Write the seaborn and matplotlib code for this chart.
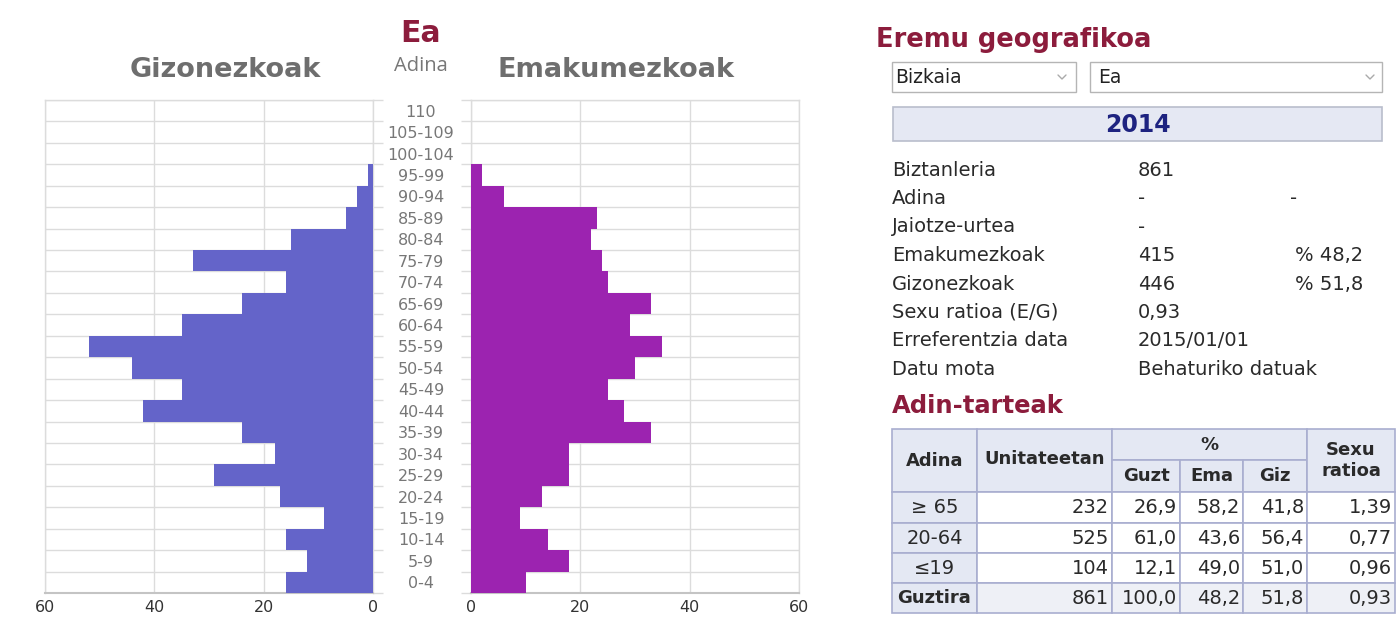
import numpy as np
import pandas as pd
import matplotlib
matplotlib.use("Agg")
import matplotlib.pyplot as plt
from matplotlib.patches import Rectangle
from matplotlib.ticker import FixedLocator
import seaborn as sns

# ---------------- data ----------------
ages = ["110", "105-109", "100-104", "95-99", "90-94", "85-89", "80-84", "75-79",
        "70-74", "65-69", "60-64", "55-59", "50-54", "45-49", "40-44", "35-39",
        "30-34", "25-29", "20-24", "15-19", "10-14", "5-9", "0-4"]
male = [0, 0, 0, 1, 3, 5, 15, 33, 16, 24, 35, 52, 44, 35, 42, 24, 18, 29, 17, 9, 16, 12, 16]
female = [0, 0, 0, 2, 6, 23, 22, 24, 25, 33, 29, 35, 30, 25, 28, 33, 18, 18, 13, 9, 14, 18, 10]
x_ticks = [0, 20, 40, 60]

place_title = "Ea"
male_title = "Gizonezkoak"
female_title = "Emakumezkoak"
age_title = "Adina"

region_title = "Eremu geografikoa"
province = "Bizkaia"
municipality = "Ea"
year = "2014"
info_labels = ["Biztanleria", "Adina", "Jaiotze-urtea", "Emakumezkoak", "Gizonezkoak",
               "Sexu ratioa (E/G)", "Erreferentzia data", "Datu mota"]
info_values = ["861", "-", "-", "415", "446", "0,93", "2015/01/01", "Behaturiko datuak"]
info_extra = ["", "-", "", "% 48,2", "% 51,8", "", "", ""]

table_title = "Adin-tarteak"
tbl_groups = ["\u2265 65", "20-64", "\u226419", "Guztira"]
tbl_units = ["232", "525", "104", "861"]
tbl_guzt = ["26,9", "61,0", "12,1", "100,0"]
tbl_ema = ["58,2", "43,6", "49,0", "48,2"]
tbl_giz = ["41,8", "56,4", "51,0", "51,8"]
tbl_ratio = ["1,39", "0,77", "0,96", "0,93"]

# ---------------- style ----------------
sns.set_theme(style="white")
plt.rcParams['font.family'] = ['DejaVu Sans']

W, H = 1396, 622
fig = plt.figure(figsize=(W / 100, H / 100), dpi=100)
fig.patch.set_facecolor("white")

male_col = "#6464c9"
fem_col = "#9c23b0"
grid_col = "#dcdcdc"
dark_red = "#8c1c3c"
label_grey = "#777777"
txt = "#2a2a2a"

df = pd.DataFrame({"age": ages, "male": male, "female": female})

def px_axes(x0, y0, x1, y1):
    return fig.add_axes([x0 / W, 1 - y1 / H, (x1 - x0) / W, (y1 - y0) / H])

ax1 = px_axes(45, 100, 373, 593)
ax2 = px_axes(471, 100, 799, 593)

sns.barplot(data=df, x="male", y="age", order=ages, ax=ax1, color=male_col,
            width=1.0, linewidth=0, saturation=1, zorder=3)
sns.barplot(data=df, x="female", y="age", order=ages, ax=ax2, color=fem_col,
            width=1.0, linewidth=0, saturation=1, zorder=3)

n = len(ages)
for ax in (ax1, ax2):
    ax.set_facecolor("white")
    ax.set_xlabel("")
    ax.set_ylabel("")
    ax.set_ylim(n - 0.5, -0.5)
    ax.set_xticks(x_ticks)
    ax.set_xticklabels([str(v) for v in x_ticks])
    ax.yaxis.set_minor_locator(FixedLocator(np.arange(-0.5, n, 1.0)))
    ax.grid(axis="x", which="major", color=grid_col, linewidth=1.0, zorder=0)
    ax.grid(axis="y", which="minor", color=grid_col, linewidth=1.0, zorder=0)
    ax.grid(axis="y", which="major", visible=False)
    ax.tick_params(axis="x", which="both", length=0, pad=5, labelsize=11.5,
                   labelcolor="#333333")
    ax.tick_params(axis="y", which="minor", length=7, width=1, color=grid_col)
    for s in ax.spines.values():
        s.set_color(grid_col)
        s.set_linewidth(1.0)
    ax.spines["bottom"].set_color("#c4c4c4")
    ax.spines["bottom"].set_linewidth(1.5)
    ax.set_axisbelow(True)

ax1.set_xlim(60, 0)
ax2.set_xlim(0, 60)

ax1.yaxis.tick_right()
ax1.tick_params(axis="y", which="major", length=0, labelright=False, labelleft=False)
ax2.yaxis.tick_left()
ax2.tick_params(axis="y", which="major", length=0, pad=36, labelsize=11.5,
                labelcolor=label_grey)
for lab in ax2.get_yticklabels():
    lab.set_horizontalalignment("center")

# ---------------- overlay in pixel coordinates ----------------
ov = fig.add_axes([0, 0, 1, 1], zorder=-1)
ov.set_xlim(0, W)
ov.set_ylim(H, 0)
ov.axis("off")

ov.text(421, 33, place_title, ha="center", va="center", fontsize=21.5,
        fontweight="bold", color=dark_red)
ov.text(421, 66, age_title, ha="center", va="center", fontsize=14.5,
        color=label_grey, family="Open Sans")
ov.text(225, 70, male_title, ha="center", va="center", fontsize=19.5,
        fontweight="bold", color="#6e6e6e")
ov.text(616, 70, female_title, ha="center", va="center", fontsize=19.5,
        fontweight="bold", color="#6e6e6e")

# right panel
ov.text(876, 40, region_title, ha="left", va="center", fontsize=18.5,
        fontweight="bold", color=dark_red)

def chevron(x, y):
    ov.plot([x - 4, x, x + 4], [y - 2, y + 2, y - 2], color="#aaaaaa", lw=1)

ov.add_patch(Rectangle((892, 62), 184, 30, facecolor="white", edgecolor="#b5b5b5", lw=1))
ov.text(895, 77.5, province, ha="left", va="center", fontsize=13.5, color="#222222")
chevron(1062, 77)
ov.add_patch(Rectangle((1090, 62), 292, 30, facecolor="white", edgecolor="#b5b5b5", lw=1))
ov.text(1098, 77.5, municipality, ha="left", va="center", fontsize=13.5, color="#222222")
chevron(1370, 77)

ov.add_patch(Rectangle((893, 107), 489, 34, facecolor="#e5e8f3", edgecolor="#b9bdcc", lw=1.2))
ov.text(1138, 124.5, year, ha="center", va="center", fontsize=17, fontweight="bold",
        color="#1e2380")

isz = 14
row_y0, row_dy = 170, 28.5
for i, (lab, val, ext) in enumerate(zip(info_labels, info_values, info_extra)):
    y = row_y0 + i * row_dy
    ov.text(892, y, lab, ha="left", va="center", fontsize=isz, color=txt)
    ov.text(1138, y, val, ha="left", va="center", fontsize=isz, color=txt)
    if ext:
        if ext == "-":
            ov.text(1294, y, ext, ha="center", va="center", fontsize=isz, color=txt)
        else:
            ov.text(1363, y, ext, ha="right", va="center", fontsize=isz, color=txt)

ov.text(892, 406, table_title, ha="left", va="center", fontsize=17.5,
        fontweight="bold", color=dark_red)

# table
cols = [892, 977, 1112, 1180, 1243, 1307, 1395]
rows = [429, 492, 523, 553, 583, 613]
split = 460
hdr_bg = "#e4e8f3"
border = "#a9aed0"
hsz = 13
tsize = 14

def cell(x0, y0, x1, y1, fc):
    ov.add_patch(Rectangle((x0, y0), x1 - x0, y1 - y0, facecolor=fc, edgecolor=border, lw=1.2))

cell(cols[0], rows[0], cols[1], rows[1], hdr_bg)
cell(cols[1], rows[0], cols[2], rows[1], hdr_bg)
cell(cols[2], rows[0], cols[5], split, hdr_bg)
for c in range(2, 5):
    cell(cols[c], split, cols[c + 1], rows[1], hdr_bg)
cell(cols[5], rows[0], cols[6], rows[1], hdr_bg)
ov.text((cols[0] + cols[1]) / 2, (rows[0] + rows[1]) / 2, "Adina", ha="center",
        va="center", fontsize=hsz, fontweight="bold", color=txt)
ov.text((cols[1] + cols[2]) / 2, (rows[0] + rows[1]) / 2 - 2, "Unitateetan", ha="center",
        va="center", fontsize=hsz, fontweight="bold", color=txt)
ov.text((cols[2] + cols[5]) / 2, (rows[0] + split) / 2, "%", ha="center",
        va="center", fontsize=hsz, fontweight="bold", color=txt)
for c, h in zip(range(2, 5), ["Guzt", "Ema", "Giz"]):
    ov.text((cols[c] + cols[c + 1]) / 2, (split + rows[1]) / 2, h, ha="center",
            va="center", fontsize=hsz, fontweight="bold", color=txt)
ov.text((cols[5] + cols[6]) / 2, (rows[0] + rows[1]) / 2, "Sexu\nratioa", ha="center",
        va="center", fontsize=hsz, fontweight="bold", color=txt, linespacing=1.2)

for r in range(4):
    y0, y1 = rows[r + 1], rows[r + 2]
    last = r == 3
    body_bg = "#eef0f6" if last else "white"
    cell(cols[0], y0, cols[1], y1, hdr_bg)
    for c in range(1, 6):
        cell(cols[c], y0, cols[c + 1], y1, body_bg)
    ym = (y0 + y1) / 2
    ov.text((cols[0] + cols[1]) / 2, ym, tbl_groups[r], ha="center", va="center",
            fontsize=tsize if not last else hsz, color=txt,
            fontweight="bold" if last else "normal")
    vals = [tbl_units[r], tbl_guzt[r], tbl_ema[r], tbl_giz[r], tbl_ratio[r]]
    for c, v in zip(range(1, 6), vals):
        ov.text(cols[c + 1] - 3, ym, v, ha="right", va="center", fontsize=tsize,
                color=txt)

fig.savefig("out.png", dpi=100, facecolor="white")
